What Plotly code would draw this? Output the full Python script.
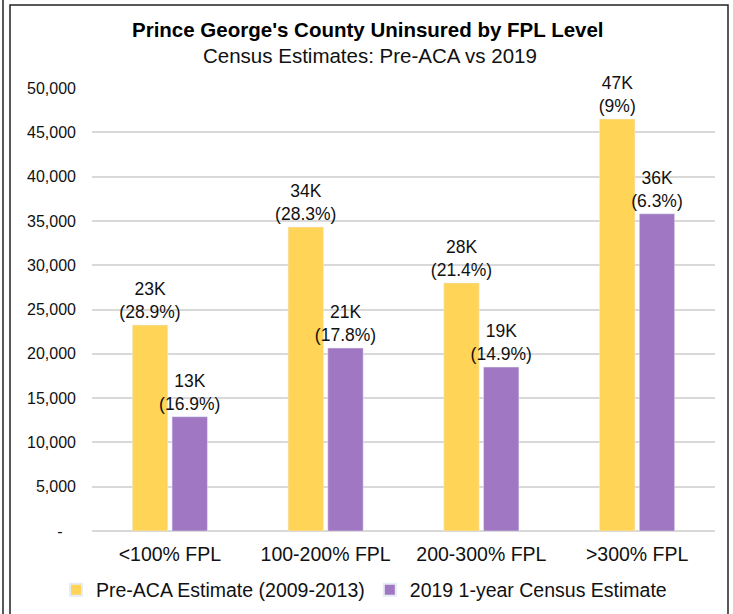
import plotly.graph_objects as go

categories = ["<100% FPL", "100-200% FPL", "200-300% FPL", ">300% FPL"]
pre_aca = [23250, 34300, 28000, 46500]
y2019 = [12900, 20650, 18500, 35800]
pre_aca_pct = ["28.9%", "28.3%", "21.4%", "9%"]
y2019_pct = ["16.9%", "17.8%", "14.9%", "6.3%"]
pre_aca_k = ["23K", "34K", "28K", "47K"]
y2019_k = ["13K", "21K", "19K", "36K"]
tick_vals = [0, 5000, 10000, 15000, 20000, 25000, 30000, 35000, 40000, 45000, 50000]
tick_text = ["-\u00a0\u00a0\u00a0", "5,000", "10,000", "15,000", "20,000", "25,000",
             "30,000", "35,000", "40,000", "45,000", "50,000"]

FONT = "Liberation Sans, Arial, sans-serif"
YEL = "#FFD457"
PUR = "#A077C2"

fig = go.Figure()
fig.add_trace(go.Bar(
    x=categories, y=pre_aca, name="Pre-ACA Estimate (2009-2013)",
    marker_color=YEL,
    text=[f"{k}<br>({p})" for k, p in zip(pre_aca_k, pre_aca_pct)],
    textposition="outside", constraintext="none", cliponaxis=False,
    textfont=dict(size=17.5, color="#111", family=FONT),
))
fig.add_trace(go.Bar(
    x=categories, y=y2019, name="2019 1-year Census Estimate",
    marker_color=PUR,
    text=[f"{k}<br>({p})" for k, p in zip(y2019_k, y2019_pct)],
    textposition="outside", constraintext="none", cliponaxis=False,
    textfont=dict(size=17.5, color="#111", family=FONT),
))

L, R, T, B = 92, 18, 88, 83
W, H = 733, 614
pw, ph = W - L - R, H - T - B


def px(x):
    return (x - L) / pw


def py(y):
    return (H - B - y) / ph


fig.update_layout(
    width=W, height=H,
    margin=dict(l=L, r=R, t=T, b=B, autoexpand=False),
    paper_bgcolor="white", plot_bgcolor="white",
    barmode="group", bargap=0.49, bargroupgap=0.11,
    font=dict(family=FONT, color="#111"),
    showlegend=True,
    legend=dict(orientation="h", x=px(364), y=py(590), xanchor="center", yanchor="middle",
                bgcolor="rgba(0,0,0,0)",
                font=dict(size=19.5, family=FONT, color="#111"), itemsizing="constant",
                traceorder="normal"),
    xaxis=dict(showgrid=False, showline=False, ticks="", automargin=False, ticklabelstandoff=9,
               tickfont=dict(size=19.5, family=FONT, color="#111")),
    yaxis=dict(range=[0, 50000], tickvals=tick_vals, ticktext=tick_text, automargin=False,
               showgrid=True, gridcolor="#D9D9D9", gridwidth=1.5,
               zeroline=True, zerolinecolor="#D9D9D9", zerolinewidth=1.5,
               showline=False, ticks="", ticklabelstandoff=15,
               tickfont=dict(size=16, family=FONT, color="#111")),
    annotations=[
        dict(text="<b>Prince George's County Uninsured by FPL Level</b>", x=px(368), y=py(30),
             xref="paper", yref="paper", showarrow=False, xanchor="center", yanchor="middle",
             font=dict(size=20.5, family=FONT, color="#000")),
        dict(text="Census Estimates: Pre-ACA vs 2019", x=px(370), y=py(55),
             xref="paper", yref="paper", showarrow=False, xanchor="center", yanchor="middle",
             font=dict(size=20.5, family=FONT, color="#111")),
    ],
    shapes=[
        dict(type="rect", xref="paper", yref="paper", x0=px(10), x1=px(728), y0=py(616), y1=py(5),
             line=dict(color="#222", width=1.5), fillcolor="rgba(0,0,0,0)", layer="below"),
        dict(type="line", xref="paper", yref="paper", x0=px(3), x1=px(3), y0=py(616), y1=py(0),
             line=dict(color="#222", width=1.5)),
    ],
)

fig.write_html("out.html", config={"displayModeBar": False},
               post_script="document.body.style.margin='0';")
